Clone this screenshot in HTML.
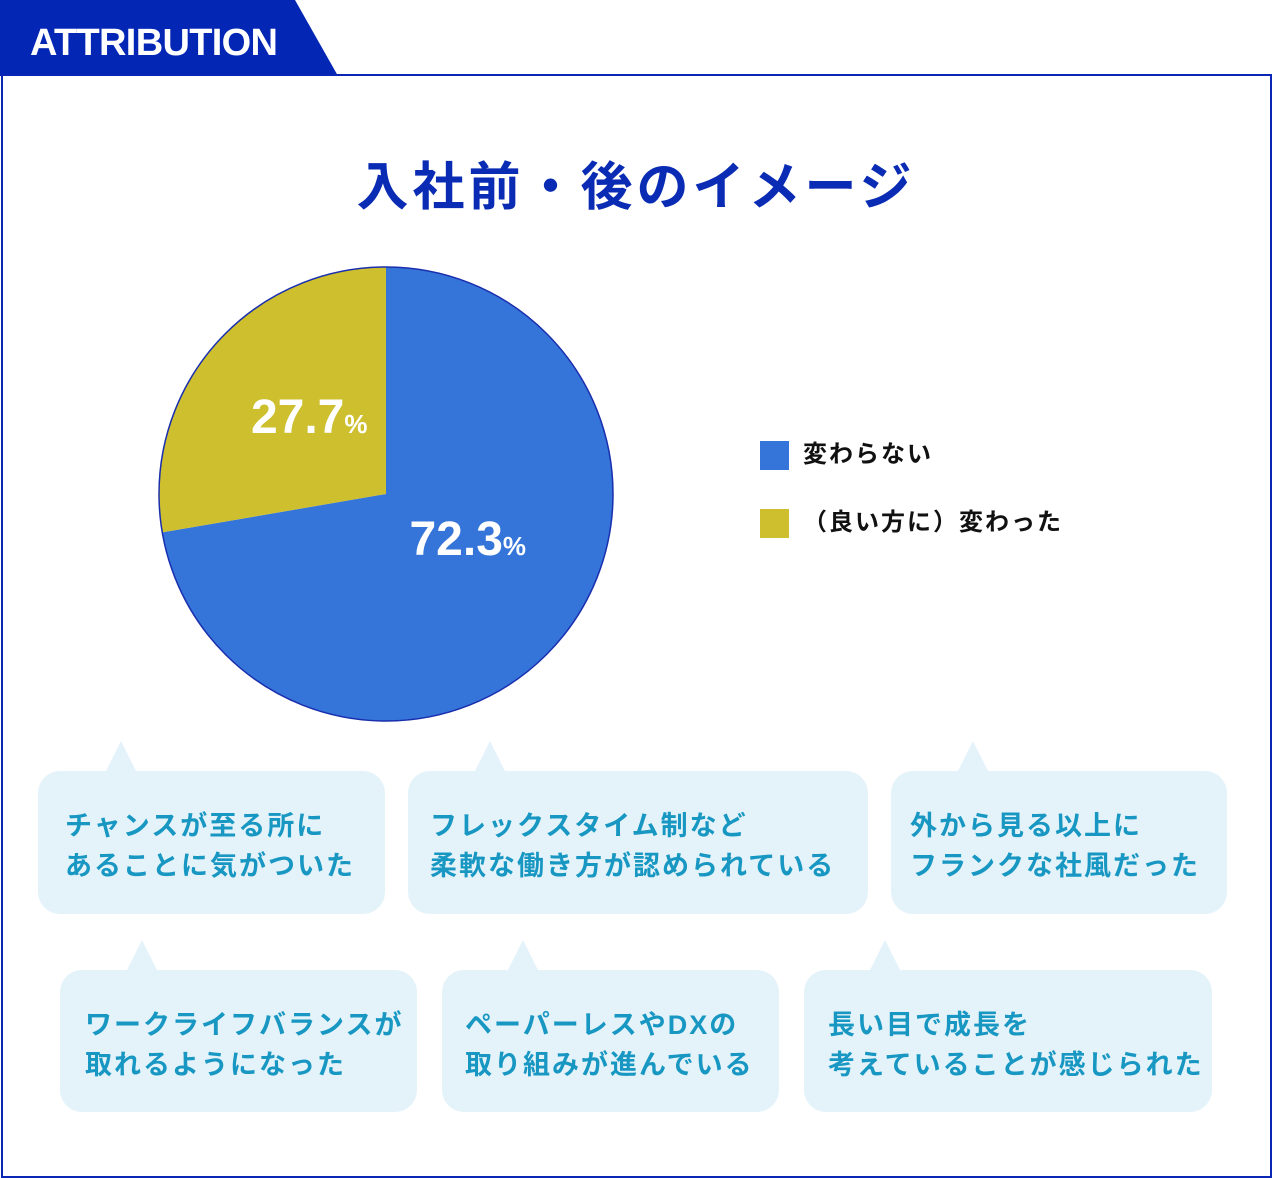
<!DOCTYPE html>
<html><head><meta charset="utf-8"><style>
body{margin:0;width:1272px;height:1178px;background:#fff;position:relative;overflow:hidden;font-family:"Liberation Sans","Noto Sans CJK JP",sans-serif}
.frame{position:absolute;left:1px;top:74px;width:1267px;height:1100px;border:2px solid #0a26b4}
.title{position:absolute;left:0;width:1272px;top:145px;text-align:center;font-size:52px;font-weight:bold;color:#0a2bb4;letter-spacing:4px}
.leg{position:absolute;left:760px;font-size:24px;font-weight:bold;color:#111;letter-spacing:2px}
.leg span{display:inline-block;width:29px;height:29px;vertical-align:middle;margin-right:14px}
.bub{position:absolute;background:#e4f3fa;border-radius:22px;color:#1897c2;font-size:27px;font-weight:bold;line-height:40px;letter-spacing:2px;box-sizing:border-box;padding-top:35px}
.bub:before{content:"";position:absolute;top:-30px;left:var(--t);border-left:15px solid transparent;border-right:15px solid transparent;border-bottom:30px solid #e4f3fa}
</style></head><body>
<svg style="position:absolute;left:0;top:0" width="340" height="77"><polygon points="0,0 295,0 338,76 0,76" fill="#0326b5"/><text x="30" y="55" fill="#fff" font-size="38" font-weight="bold" font-family="Liberation Sans" letter-spacing="2" textLength="250">ATTRIBUTION</text></svg>
<div class="frame"></div>
<div class="title">入社前・後のイメージ</div>
<svg id="pie" style="position:absolute;left:0;top:0" width="700" height="760"></svg>
<div class="leg" style="top:434px"><span style="background:#3575d9"></span>変わらない</div>
<div class="leg" style="top:502px"><span style="background:#cdbf2e"></span>（良い方に）変わった</div>
<div class="bub" style="left:38px;top:771px;width:347px;height:143px;padding-left:27px;--t:68px">チャンスが至る所に<br>あることに気がついた</div>
<div class="bub" style="left:408px;top:771px;width:460px;height:143px;padding-left:22px;--t:67px">フレックスタイム制など<br>柔軟な働き方が認められている</div>
<div class="bub" style="left:891px;top:771px;width:336px;height:143px;padding-left:19px;--t:67px">外から見る以上に<br>フランクな社風だった</div>
<div class="bub" style="left:60px;top:970px;width:357px;height:142px;padding-left:25px;--t:67px">ワークライフバランスが<br>取れるようになった</div>
<div class="bub" style="left:442px;top:970px;width:337px;height:142px;padding-left:23px;--t:66px">ペーパーレスやDXの<br>取り組みが進んでいる</div>
<div class="bub" style="left:804px;top:970px;width:408px;height:142px;padding-left:24px;--t:66px">長い目で成長を<br>考えていることが感じられた</div>
<script>
const categories=["変わらない","（良い方に）変わった"];
const values=[72.3,27.7];
const colors=["#3575d9","#cdbf2e"];
const svg=document.getElementById('pie');
const NS="http://www.w3.org/2000/svg";
const cx=386,cy=494,r=227;
const total=values.reduce((a,b)=>a+b,0);
function pt(f){const a=-Math.PI/2+f*2*Math.PI;return [cx+r*Math.cos(a),cy+r*Math.sin(a)];}
let acc=0;
values.forEach((v,i)=>{
 const f0=acc/total,f1=(acc+v)/total;acc+=v;
 const p0=pt(f0),p1=pt(f1),large=(f1-f0)>0.5?1:0;
 const path=document.createElementNS(NS,'path');
 path.setAttribute('d',`M${cx},${cy}L${p0[0]},${p0[1]}A${r},${r} 0 ${large} 1 ${p1[0]},${p1[1]}Z`);
 path.setAttribute('fill',colors[i]);
 
 
 svg.appendChild(path);
 const mid=(f0+f1)/2,a=-Math.PI/2+mid*2*Math.PI,lr=r*0.5;
 const t=document.createElementNS(NS,'text');
 t.setAttribute('x',cx+lr*Math.cos(a)+(i==0?-5:10));
 t.setAttribute('y',cy+lr*Math.sin(a)+(i==0?-12:12));
 t.setAttribute('text-anchor','middle');
 t.setAttribute('fill','#fff');
 t.setAttribute('font-weight','bold');
 t.setAttribute('font-family','Liberation Sans Narrow, Liberation Sans, sans-serif');
 t.setAttribute('font-size','48');
 
 
 t.innerHTML=v.toFixed(1)+'<tspan font-size="26">%</tspan>';
 svg.appendChild(t);
});
const c=document.createElementNS(NS,'circle');
c.setAttribute('cx',cx);c.setAttribute('cy',cy);c.setAttribute('r',r);
c.setAttribute('fill','none');c.setAttribute('stroke','#1a2fae');c.setAttribute('stroke-width','1.5');


svg.appendChild(c);
</script>
</body></html>
